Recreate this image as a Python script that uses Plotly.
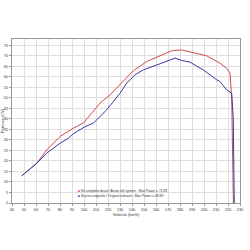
import plotly.graph_objects as go

# Data (speed km/h, power CV)
red_speed = [48.1, 60.6, 68.9, 80.0, 91.1, 99.4, 106.4, 113.3, 121.7, 130.0, 141.1, 152.2, 163.3, 173.1, 181.4, 191.1, 202.2, 213.3, 218.9, 221.7, 223.1, 224.5]
red_power = [12.9, 18.9, 25.2, 31.6, 35.6, 38.0, 42.7, 47.5, 51.4, 56.2, 62.9, 67.3, 70.0, 72.4, 72.8, 71.6, 70.0, 66.5, 64.1, 61.8, 49.0, 0.0]

blue_speed = [48.1, 60.6, 68.9, 80.0, 86.9, 91.1, 100.8, 107.8, 118.9, 127.3, 130.0, 135.6, 142.5, 149.4, 153.6, 163.3, 175.8, 181.4, 188.3, 199.4, 210.6, 213.3, 218.9, 223.1, 224.4, 225.2]
blue_power = [12.9, 18.9, 23.7, 28.4, 30.8, 32.9, 36.3, 38.0, 44.3, 49.9, 52.2, 57.0, 61.0, 63.3, 64.1, 66.2, 68.9, 67.8, 67.0, 63.3, 58.6, 57.8, 53.8, 52.2, 40.0, 0.0]

red_name = "Kit completo decat / Arrow full system - Max Power = 72,83"
blue_name = "Scarico originale / Original exhaust - Max Power = 68,89"

x_ticks = list(range(40, 231, 10))
y_ticks = list(range(0, 76, 5))

RED = "#d24a4a"
BLUE = "#3a3aa8"

fig = go.Figure()
fig.add_trace(go.Scatter(x=red_speed, y=red_power, mode="lines", name=red_name,
                         line=dict(color=RED, width=1), showlegend=False))
fig.add_trace(go.Scatter(x=blue_speed, y=blue_power, mode="lines", name=blue_name,
                         line=dict(color=BLUE, width=1), showlegend=False))

axis_common = dict(showgrid=True, gridcolor="#dedede", gridwidth=1,
                   showline=True, linecolor="#999999", linewidth=1, mirror=True,
                   ticks="outside", ticklen=2, tickcolor="#999999",
                   tickfont=dict(size=4, color="#333333"),
                   zeroline=False, fixedrange=True, automargin=False,
                   minor=dict(ticks="outside", ticklen=1, tickcolor="#aaaaaa"))

# legend drawn as text annotations with square swatches
legend_annots = []
for i, (name, col) in enumerate([(red_name, RED), (blue_name, BLUE)]):
    legend_annots.append(dict(
        xref="paper", yref="paper", x=0.28, y=0.075 - i * 0.031,
        xanchor="left", yanchor="middle", showarrow=False, align="left",
        text=f"<span style='color:{col}'>■</span> {name}",
        font=dict(size=3.3, color="#333333")))

fig.update_layout(
    width=250, height=250,
    margin=dict(l=12, r=10, t=39, b=47),
    paper_bgcolor="white", plot_bgcolor="white",
    font=dict(family="Liberation Sans, Arial, sans-serif", size=4, color="#333333"),
    xaxis=dict(range=[40, 230], tickvals=x_ticks, ticktext=[str(v) for v in x_ticks],
               title=dict(text="Velocità (km/h)", font=dict(size=4), standoff=2),
               **axis_common),
    yaxis=dict(range=[0, 78], tickvals=y_ticks, ticktext=[str(v) for v in y_ticks],
               title=dict(text="Potenza (CV)", font=dict(size=4), standoff=1),
               **axis_common),
    showlegend=False,
    annotations=legend_annots,
)

fig.write_html("out.html")
